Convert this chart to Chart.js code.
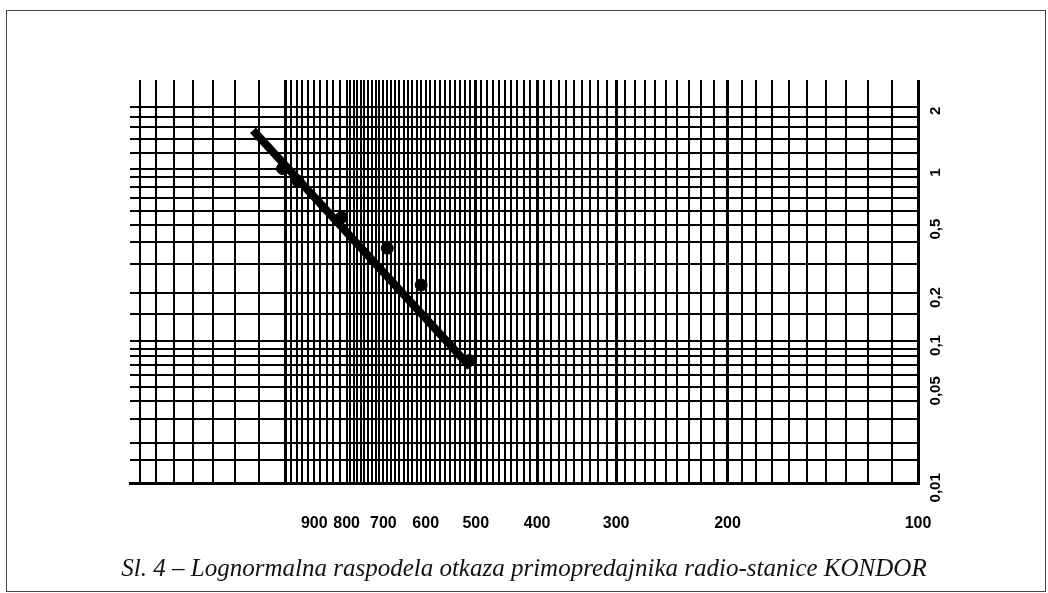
<!DOCTYPE html>
<html>
<head>
<meta charset="utf-8">
<script src="https://cdn.jsdelivr.net/npm/chart.js@4.4.1/dist/chart.umd.min.js"></script>
<style>
  html, body { margin: 0; padding: 0; background: #fff; }
  #okvir { position: absolute; left: 6px; top: 10px; width: 1038px; height: 580px; border: 1.5px solid #444; }
  #grafik { position: absolute; left: 0; top: 0; }
  #naslov { position: absolute; left: 0; top: 554px; width: 1048px; text-align: center;
            font-family: "Liberation Serif", serif; font-style: italic; font-size: 25px; color: #111; }
</style>
</head>
<body>
<div id="okvir"></div>
<canvas id="grafik" width="1048" height="593"></canvas>
<div id="naslov">Sl. 4 – Lognormalna raspodela otkaza primopredajnika radio-stanice KONDOR</div>
<script>
// vreme do otkaza (h) i kumulativna verovatnoca otkaza (%)
const vremena = [1010, 955, 815, 690, 610, 512];
const procenti = [1.0, 0.86, 0.55, 0.37, 0.225, 0.075];

// prava procene
const pravaX = [1125, 510];
const pravaY = [1.55, 0.068];

// oznake na osama
const oznakeX = [900, 800, 700, 600, 500, 400, 300, 200, 100];
const oznakeY = [2, 1, 0.5, 0.2, 0.1, 0.05, 0.01];
const tekstY = ['2', '1', '0,5', '0,2', '0,1', '0,05', '0,01'];
const glavneX = [100, 200, 300, 400, 500, 1000];

// linije mreze na papiru
const mrezaY = [0.01, 0.015, 0.02, 0.03, 0.04, 0.05, 0.06, 0.07, 0.08, 0.09, 0.1, 0.15, 0.2,
                0.3, 0.4, 0.5, 0.6, 0.7, 0.8, 0.9, 1, 1.2, 1.4, 1.6, 1.8, 2];
const mrezaX = [];
for (let v = 100; v < 800; v += 10) mrezaX.push(v);
for (let v = 800; v < 1000; v += 20) mrezaX.push(v);
for (let v = 1000; v <= 1700; v += 100) mrezaX.push(v);

// inverzna normalna raspodela (Acklam)
function probit(p) {
    const a = [-3.969683028665376e+01, 2.209460984245205e+02, -2.759285104469687e+02, 1.383577518672690e+02, -3.066479806614716e+01, 2.506628277459239e+00];
    const b = [-5.447609879822406e+01, 1.615858368580409e+02, -1.556989798598866e+02, 6.680131188771972e+01, -1.328068155288572e+01];
    const c = [-7.784894002430293e-03, -3.223964580411365e-01, -2.400758277161838e+00, -2.549732539343734e+00, 4.374664141464968e+00, 2.938163982698783e+00];
    const d = [7.784695709041462e-03, 3.224671290700398e-01, 2.445134137142996e+00, 3.754408661907416e+00];
    const plow = 0.02425;
    let q, r;
    if (p < plow) {
        q = Math.sqrt(-2 * Math.log(p));
        return (((((c[0]*q+c[1])*q+c[2])*q+c[3])*q+c[4])*q+c[5]) / ((((d[0]*q+d[1])*q+d[2])*q+d[3])*q+1);
    }
    if (p > 1 - plow) {
        q = Math.sqrt(-2 * Math.log(1 - p));
        return -(((((c[0]*q+c[1])*q+c[2])*q+c[3])*q+c[4])*q+c[5]) / ((((d[0]*q+d[1])*q+d[2])*q+d[3])*q+1);
    }
    q = p - 0.5;
    r = q * q;
    return (((((a[0]*r+a[1])*r+a[2])*r+a[3])*r+a[4])*r+a[5])*q / (((((b[0]*r+b[1])*r+b[2])*r+b[3])*r+b[4])*r+1);
}
const z = p => probit(p / 100);

const zMin = z(0.01);
const zMax = zMin + 405 / 227;

// oznake y ose, rotirane
const oznakeDesno = {
    id: 'oznakeDesno',
    afterDraw(chart) {
        const ctx = chart.ctx;
        const y = chart.scales.y;
        const x0 = chart.chartArea.right + 18;
        ctx.save();
        ctx.fillStyle = '#000';
        ctx.font = 'bold 15px "Liberation Sans", Arial, sans-serif';
        ctx.textAlign = 'center';
        ctx.textBaseline = 'middle';
        oznakeY.forEach((p, i) => {
            ctx.save();
            ctx.translate(x0, y.getPixelForValue(z(p)) + 4);
            ctx.rotate(-Math.PI / 2);
            ctx.fillText(tekstY[i], 0, 0);
            ctx.restore();
        });
        ctx.restore();
    }
};

new Chart(document.getElementById('grafik'), {
    type: 'scatter',
    data: {
        datasets: [
            {
                type: 'line',
                data: pravaX.map((v, i) => ({ x: v, y: z(pravaY[i]) })),
                borderColor: '#000',
                borderWidth: 8,
                pointRadius: 0,
                borderCapStyle: 'butt'
            },
            {
                data: vremena.map((v, i) => ({ x: v, y: z(procenti[i]) })),
                backgroundColor: '#000',
                borderColor: '#000',
                pointRadius: 6
            }
        ]
    },
    options: {
        responsive: false,
        animation: false,
        layout: { padding: { left: 130, top: 80, right: 130, bottom: 30 } },
        plugins: {
            legend: { display: false },
            tooltip: { enabled: false }
        },
        scales: {
            x: {
                type: 'logarithmic',
                reverse: true,
                min: 100,
                max: 1760,
                afterBuildTicks: scale => { scale.ticks = mrezaX.map(v => ({ value: v })); },
                ticks: {
                    autoSkip: false,
                    maxRotation: 0,
                    minRotation: 0,
                    padding: 30,
                    color: '#000',
                    font: { family: '"Liberation Sans", Arial, sans-serif', size: 16, weight: 'bold' },
                    callback: v => oznakeX.includes(v) ? String(v) : ''
                },
                grid: {
                    color: '#000',
                    drawTicks: false,
                    lineWidth: c => glavneX.includes(c.tick.value) ? 3 : 2
                },
                border: { display: true, color: '#000', width: 3 }
            },
            y: {
                type: 'linear',
                position: 'right',
                min: zMin,
                max: zMax,
                afterBuildTicks: scale => { scale.ticks = mrezaY.map(p => ({ value: z(p) })); },
                ticks: { display: false },
                grid: {
                    color: '#000',
                    drawTicks: false,
                    lineWidth: 2
                },
                border: { display: false }
            }
        }
    },
    plugins: [oznakeDesno]
});
</script>
</body>
</html>
